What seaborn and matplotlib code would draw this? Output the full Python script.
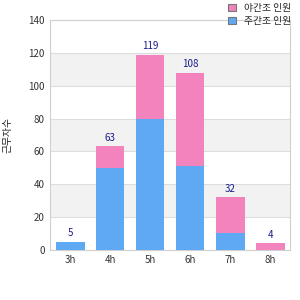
import numpy as np
import pandas as pd
import seaborn as sns
import matplotlib.pyplot as plt
from matplotlib.patches import Patch

hours = ["3h", "4h", "5h", "6h", "7h", "8h"]
blue_vals = [5, 50, 80, 51, 10, 0]
pink_vals = [0, 13, 39, 57, 22, 4]
series_names = ["야간조 인원", "주간조 인원"]
y_label = "근무자수"

blue_color = "#5fa8f4"
pink_color = "#f283bc"

totals = [b + p for b, p in zip(blue_vals, pink_vals)]
df = pd.DataFrame({"hour": hours, "blue": blue_vals, "total": totals})

sns.set_style("white")
plt.rcParams["font.family"] = ["Noto Sans CJK KR", "DejaVu Sans"]

fig = plt.figure(figsize=(3, 3), dpi=100)
ax = fig.add_axes([0.167, 0.167, 0.80, 0.766])

# alternating bands
for lo in range(20, 140, 40):
    ax.axhspan(lo, lo + 20, color="#f2f2f2", zorder=0, lw=0)

sns.barplot(data=df, x="hour", y="total", color=pink_color, width=0.72,
            saturation=1, linewidth=0, ax=ax, zorder=2)
sns.barplot(data=df, x="hour", y="blue", color=blue_color, width=0.72,
            saturation=1, linewidth=0, ax=ax, zorder=3)

for i, t in enumerate(totals):
    ax.text(i, t + 2, str(t), ha="center", va="bottom", fontsize=7, color="#1a1a8c", zorder=4)

ax.set_ylim(0, 140)
ax.set_yticks(range(0, 141, 20))
ax.yaxis.grid(True, color="#dddddd", lw=0.8, zorder=1)
ax.set_axisbelow(True)
ax.set_xlabel("")
ax.set_ylabel(y_label, fontsize=7, color="#222222", labelpad=11)
ax.tick_params(axis="both", labelsize=7, colors="#333333", length=0, pad=4)
for s in ax.spines.values():
    s.set_color("#d0d0d0")
    s.set_linewidth(0.8)

handles = [Patch(facecolor=pink_color, edgecolor="#777777", lw=0.8),
           Patch(facecolor=blue_color, edgecolor="#777777", lw=0.8)]
fig.legend(handles, series_names, loc="upper right", bbox_to_anchor=(0.99, 1.01),
           frameon=False, fontsize=7, handlelength=0.8, handleheight=0.8,
           handletextpad=0.8, labelspacing=0.3, borderaxespad=0.2)

fig.savefig("out.png", dpi=100)
